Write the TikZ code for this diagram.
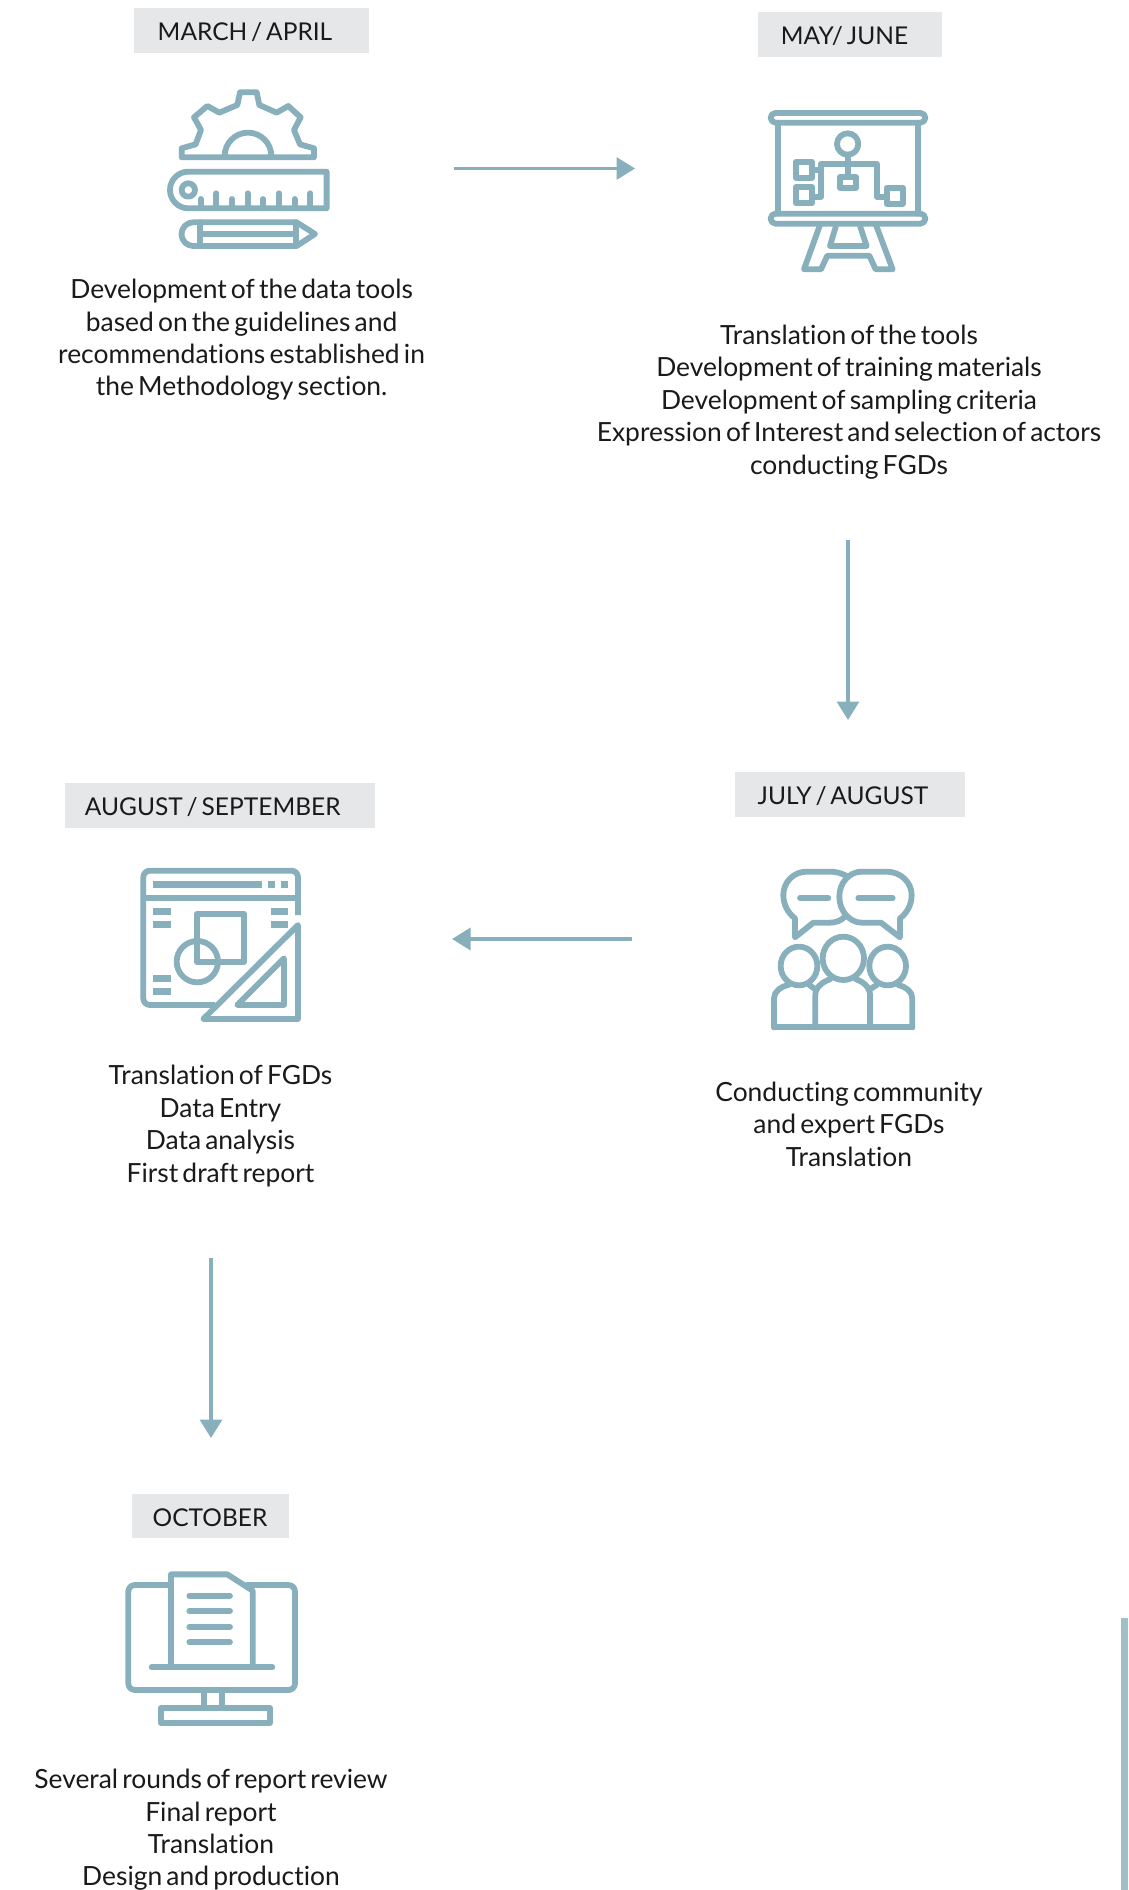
\documentclass[tikz,border=0pt]{standalone}
\usepackage{fontspec}
\setmainfont{Lato}[WordSpace=0.62,RawFeature={-liga;-dlig;-clig}]
\usetikzlibrary{arrows.meta}
\definecolor{icon}{HTML}{88AFBC}
\definecolor{tagbg}{HTML}{E6E7E8}
\definecolor{ink}{HTML}{1A1A1A}
\definecolor{sidebar}{HTML}{A2BFC9}
\tikzset{
  tag/.style={fill=tagbg,draw=none,inner sep=0pt,anchor=north west},
  tagtext/.style={text=ink,inner sep=0pt,font=\fontsize{24.5}{30}\selectfont},
  body/.style={text=ink,inner sep=0pt,align=center,font=\fontsize{26.4}{32.4}\selectfont},
  flow/.style={draw=icon,line width=3.3pt,-{Triangle[length=18.5pt,width=22pt]}},
  ic/.style={draw=icon,line width=5.8pt,line join=round,line cap=round},
}
\newcommand{\tagbox}[7]{% name x y w h textcx text
  \node[tag,minimum width=#4pt,minimum height=#5pt] (#1) at (#2,#3) {};
  \node[tagtext] (#1t) at (#6,#3+#5/2+1.5) {#7};
}
\begin{document}
\begin{tikzpicture}[x=1pt,y=-1pt]
\useasboundingbox (0,0) rectangle (1128,1890);
\fill[white] (0,0) rectangle (1128,1890);
\fill[sidebar] (1121,1618) rectangle (1128,1890);

\tagbox{t1}{134}{8}{235}{45}{245}{MARCH / APRIL}
\tagbox{t2}{758}{12}{184}{45}{844.5}{MAY/ JUNE}
\tagbox{t3}{735}{772}{230}{45}{843}{JULY / AUGUST}
\tagbox{t4}{65}{783}{310}{45}{212.7}{AUGUST / SEPTEMBER}
\tagbox{t5}{132}{1494}{157}{44}{210}{OCTOBER}

\node[body] (b1) at (241.6,340) {Development of the data tools\\based on the guidelines and\\recommendations established in\\the Methodology section.};
\node[body] (b2) at (849,402) {Translation of the tools\\Development of training materials\\Development of sampling criteria\\Expression of Interest and selection of actors\\conducting FGDs};
\node[body] (b3) at (849,1124) {Conducting community\\and expert FGDs\\Translation};
\node[body] (b4) at (220.5,1126) {Translation of FGDs\\Data Entry\\Data analysis\\First draft report};
\node[body] (b5) at (211,1830) {Several rounds of report review\\Final report\\Translation\\Design and production};

\coordinate (a1s) at (454,168.5); \coordinate (a1e) at (635,168.5);
\coordinate (a2s) at (848,540);   \coordinate (a2e) at (848,720);
\coordinate (a3s) at (632,939);   \coordinate (a3e) at (452,939);
\coordinate (a4s) at (211,1258);  \coordinate (a4e) at (211,1438);
\draw[flow] (a1s) -- (a1e);
\draw[flow] (a2s) -- (a2e);
\draw[flow] (a3s) -- (a3e);
\draw[flow] (a4s) -- (a4e);

% icon 1
\begin{scope}[xshift=130pt,yshift=0pt,x=0.3333pt,y=-0.3333pt]
\draw[ic] (155,472) -- (155,445) -- (197,433) -- (213,390) -- (192,352) -- (232,318) -- (268,338) -- (322,315) -- (330,277) -- (380,277) -- (388,315) -- (440,338) -- (475,318) -- (512,352) -- (492,390) -- (510,433) -- (552,445) -- (552,472) -- cycle;
\draw[ic] (284,468) arc[start angle=180,end angle=360,radius=70];
\draw[ic] (175,515) -- (590,515) -- (590,625) -- (175,625) arc[start angle=90,end angle=270,radius=55];
\draw[ic] (175,570) circle[radius=20];
\foreach \tx/\ty in {212/597,259/580,306/597,353/580,400/597,447/580,494/597,541/580}
  \draw[ic] (\tx,625) -- (\tx,\ty);
\draw[ic] (190,667) -- (500,667) -- (555,702) -- (500,738) -- (190,738) arc[start angle=90,end angle=270,radius=35.5];
\draw[ic] (210,667) -- (210,738);
\draw[ic] (497,667) -- (497,738);
\draw[ic] (210,702) -- (497,702);
\end{scope}

% icon 2
\begin{scope}[xshift=740pt,yshift=-90pt,x=0.3333pt,y=-0.3333pt]
\draw[ic,rounded corners=4.8pt] (92,69) rectangle (556,98);
\draw[ic,rounded corners=4.8pt] (92,371) rectangle (556,401);
\draw[ic] (113,98) -- (113,371);
\draw[ic] (533,98) -- (533,371);
\draw[ic] (323,162) circle[radius=32];
\draw[ic] (323,195) -- (323,258);
\draw[ic] (216,240) -- (243,240);
\draw[ic] (216,320) -- (243,320) -- (243,222) -- (410,222) -- (410,320) -- (440,320);
\draw[ic] (168,216) rectangle (216,263);
\draw[ic] (168,292) rectangle (216,340);
\draw[ic] (300,262) rectangle (348,294);
\draw[ic] (440,293) rectangle (488,341);
\draw[ic,line cap=butt] (240,405) -- (192,538) -- (243,538) -- (262,497) -- (388,497) -- (407,538) -- (458,538) -- (408,405);
\draw[ic,line cap=butt] (288,408) -- (270,468) -- (380,468) -- (360,408);
\end{scope}

% icon 3
\begin{scope}[xshift=120pt,yshift=-850pt,x=0.3333pt,y=-0.3333pt]
\draw[ic,line cap=butt,rounded corners=6.5pt] (534,195) -- (534,62) -- (70,62) -- (70,465) -- (285,465);
\draw[ic,line cap=butt] (70,145) -- (534,145);
\fill[icon] (100,93) rectangle (425,115);
\fill[icon] (443,93) rectangle (465,115);
\fill[icon] (482,93) rectangle (503,115);
\fill[icon] (100,174) rectangle (152,195);
\fill[icon] (100,212) rectangle (152,233);
\fill[icon] (452,174) rectangle (503,195);
\fill[icon] (452,212) rectangle (503,233);
\fill[icon] (100,375) rectangle (152,396);
\fill[icon] (100,413) rectangle (152,435);
\draw[ic] (230,192) rectangle (373,335);
\draw[ic] (232,335) circle[radius=62];
\draw[ic] (534,225) -- (534,507) -- (250,507) -- cycle;
\draw[ic] (492,325) -- (492,465) -- (352,465) -- cycle;
\end{scope}

% icon 4
\begin{scope}[xshift=750pt,yshift=-850pt,x=0.3333pt,y=-0.3333pt]
\draw[ic] (290,78) .. controls (272,68) and (255,65) .. (240,65) -- (170,65) .. controls (130,65) and (100,97) .. (100,135) .. controls (100,165) and (115,190) .. (135,205) -- (135,262) -- (190,218) -- (240,218) .. controls (258,218) and (272,212) .. (285,200);
\draw[ic] (335,65) -- (410,65) .. controls (452,65) and (485,97) .. (485,135) .. controls (485,165) and (470,190) .. (450,205) -- (450,262) -- (393,218) -- (335,218) .. controls (298,218) and (268,182) .. (268,140) .. controls (268,98) and (298,65) .. (335,65) -- cycle;
\draw[ic] (150,144) -- (235,144);
\draw[ic] (325,144) -- (428,144);
\draw[ic] (147,348) ellipse[x radius=55,y radius=58];
\draw[ic] (280,325) ellipse[x radius=62,y radius=65];
\draw[ic] (413,348) ellipse[x radius=55,y radius=58];
\draw[ic] (72,532) -- (487,532);
\draw[ic] (72,532) -- (72,445) .. controls (72,425) and (92,410) .. (115,405);
\draw[ic] (487,532) -- (487,445) .. controls (487,425) and (467,410) .. (445,405);
\draw[ic] (196,532) -- (196,435) .. controls (196,412) and (218,395) .. (240,388);
\draw[ic] (360,532) -- (360,435) .. controls (360,412) and (340,395) .. (318,388);
\draw[ic] (178,405) -- (196,418);
\draw[ic] (380,405) -- (360,418);
\end{scope}

% icon 5
\begin{scope}[xshift=110pt,yshift=-1550pt,x=0.3333pt,y=-0.3333pt]
\draw[ic,rounded corners=6.5pt] (178,105) -- (55,105) -- (55,420) -- (555,420) -- (555,105) -- (410,105);
\draw[ic] (183,345) -- (183,73) -- (352,73) -- (428,122) -- (428,345);
\foreach \ly in {137,183,231,277}
  \draw[ic] (238,\ly) -- (360,\ly);
\draw[ic] (125,352) -- (487,352);
\draw[ic] (283,420) -- (283,470);
\draw[ic] (335,420) -- (335,470);
\draw[ic] (152,475) rectangle (480,518);
\end{scope}
\end{tikzpicture}
\end{document}
